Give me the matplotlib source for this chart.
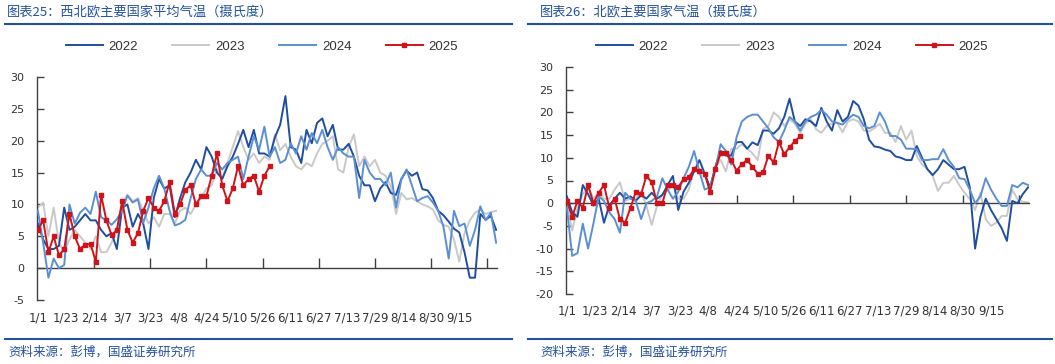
import matplotlib
matplotlib.use('Agg')
import matplotlib.pyplot as plt
from matplotlib.lines import Line2D

plt.rcParams['font.family'] = ['Noto Sans CJK SC', 'DejaVu Sans']

# ---------------- data ----------------
date_labels = ['1/1', '1/23', '2/14', '3/7', '3/23', '4/8', '4/24', '5/10', '5/26',
               '6/11', '6/27', '7/13', '7/29', '8/14', '8/30', '9/15']
label_step = 16      # categories between date labels
sample_step = 3      # categories between read-off samples
years = ['2022', '2023', '2024', '2025']

# North-west Europe average temperature (deg C)
nwe_2022 = [7, 4.5, 3, 3, 3.5, 9.5, 6, 6.5, 7.5, 8.5, 7.5, 7.5, 6, 5, 5.5, 3, 9.5, 10, 6.5, 8.5,
            7, 3, 11, 14, 12.5, 13, 8, 11, 13.5, 15, 17, 15.5, 19, 17.5, 15, 14, 16, 17.5, 19.5, 21.7,
            19, 21.7, 18, 18, 17.5, 20.5, 22.5, 27, 19, 18.6, 16.5, 21.7, 19.6, 22.8, 23.5, 20.7, 22.5, 18.6, 18.6, 19.5,
            17.5, 14.5, 13, 13, 10.5, 12.5, 13.5, 11.8, 11.5, 14, 15.3, 14.5, 15, 12.4, 12.2, 11, 9, 8.3, 7.3, 6.2,
            5.6, 2.5, -1.5, -1.5, 8.5, 7.6, 8.2, 6]
nwe_2023 = [9.5, 10.3, 5, 9.5, 4, 2.5, 4.5, 6, 5, 4, 3, 5, 2.5, 2.5, 4, 6, 10, 11.5, 10.5, 11,
            9, 7, 8, 6.5, 8.5, 8.5, 7, 9, 9.5, 8.5, 10, 11, 12.5, 13, 15.5, 14, 16.5, 19, 21.5, 19,
            17, 18, 16.5, 17.5, 17, 21, 18.5, 19.5, 17.5, 16, 15.5, 16.5, 16, 18, 19.5, 20, 20.7, 15.5, 15, 19,
            21, 16, 17.5, 16, 17, 15, 14.5, 12.9, 8.5, 11.8, 10.8, 11, 10.5, 10, 9.7, 9.2, 7.5, 6.8, 6.5, 4.5,
            1, 5.5, 7.5, 8.7, 9.2, 8.5, 8.8, 9]
nwe_2024 = [9, 4, -1.5, 1.5, 0, 0.5, 10, 7, 8.7, 9.5, 8.5, 12, 8, 7.5, 6.8, 7.7, 9, 11.4, 10.3, 10.8,
            7.1, 9.5, 12.5, 14.5, 12.5, 9, 6.7, 7, 7.6, 11, 14, 15.5, 14.5, 14.5, 16.5, 15.5, 16.5, 17, 17.5, 14,
            17.5, 20.7, 18.6, 22.2, 17.5, 19, 16.5, 17, 19.6, 18, 20.7, 18.6, 21.2, 19.6, 21.7, 19, 17, 19, 18, 17.5,
            17.5, 11, 17, 15, 14, 14, 13, 15, 9.5, 13.9, 15.5, 13, 10.5, 11, 11.3, 10.3, 9, 6.5, 1.5, 9,
            6.6, 7, 3.5, 6, 9.7, 7.5, 8.7, 4]
nwe_2025 = [6, 7.5, 2.5, 5, 2, 3, 8.5, 5, 3, 3.7, 3.8, 1, 11.5, 7.5, 5.2, 6, 10.5, 6, 4, 5.5,
            9, 11, 9.5, 9, 10.5, 13.5, 8.5, 10, 12.3, 13, 10, 11.3, 11.3, 14.5, 18, 13, 10.5, 12.5, 16, 13,
            14, 14.5, 12, 14.5, 16]

# Nordic countries temperature (deg C)
nor_2022 = [1.5, -2, -3, 4, 2, -0.5, 1, -4.3, -0.5, 1, 2.3, 1, 1.5, 0.5, 1.8, 1, 2.3, 1, 1.8, 4,
            6, -1.5, 2.5, 4.5, 7, 9.5, 6.5, 3.5, 8, 11.5, 10.5, 10.5, 13.4, 13.5, 12, 13.4, 12.8, 16, 16, 15.3,
            16.5, 19, 23, 18, 17, 18.5, 18, 17, 21, 18, 16, 20.5, 18, 19, 22.5, 21.5, 18.5, 14, 12.5, 12.3,
            11.8, 11.5, 10.3, 10, 9.5, 9.5, 12.6, 10, 7.5, 6.2, 7.5, 9.5, 8.5, 7.5, 7.5, 8, 3.5, -10, -3, 1,
            -1.5, -3.5, -5.5, -8.3, 0.5, 0, 2, 3.5]
nor_2023 = [0, -6, -1, 2, 3.5, 1, 2.3, 1, 1, 3, 4.6, 0.5, 1, 1, 2.5, -0.6, -4.8, -0.6, 2, 2.8,
            3.8, 1, 1, 3, 7.5, 7.5, 6.5, 3, 8, 9.5, 7, 12, 12, 13, 12, 11, 9.5, 16.3, 17, 20,
            19, 17, 18.5, 17.5, 15.5, 17.5, 18.5, 16.3, 15.5, 17, 17.5, 17.7, 15.6, 18, 18.5, 18, 16, 15.8, 16.5, 17.5,
            15.5, 15.5, 13.5, 17, 14, 16, 10.4, 8.5, 7.5, 6, 2.7, 4.5, 4.5, 6, 4, 2.3, 0.9, -1.5, 2.3, -3.5,
            -5, -4.3, -2.8, -2.8, 3, 0.9, 0.3, 0.2]
nor_2024 = [-1, -11.6, -11, -4.5, -10, -4.5, 1.5, 0.5, -2, -3.5, -6.5, 2.3, 1, 0.5, -3.5, 0, 0.5, 1.5, 5.5, 3,
            1, 2.5, 5.5, 8, 11.5, 7, 3, 3.5, 7.5, 13, 11.5, 8.5, 14.5, 18, 19, 19.5, 19.5, 18, 16.5, 14.5,
            13.5, 16, 19, 18, 16, 18, 19, 19.5, 20.5, 19.5, 18, 17.7, 17.3, 18.5, 19.5, 19, 17, 16.5, 17, 20,
            18, 14.8, 14.8, 14, 12, 12, 11.9, 9.5, 9.5, 9.7, 9.7, 11.9, 9.5, 8, 5.5, 5.3, 3, 0, 1.5, 5.5,
            3, 1, -0.6, -0.6, 4, 3.5, 4.5, 4]
nor_2025 = [0.5, -3, 0.5, -1, 4, 0, 2.3, 4, -1, 1, -3.5, -4.3, -1, 2.5, 2, 6, 4.6, 0, 0, 4,
            4, 3.5, 5.3, 5.7, 7.5, 7, 6.5, 2.5, 7.5, 11, 11, 9.5, 7.2, 8.6, 9.5, 8, 6.5, 6.8, 10.4, 9,
            13.5, 10.8, 12.3, 13.7, 14.7]

nwe_series = [nwe_2022, nwe_2023, nwe_2024, nwe_2025]
nor_series = [nor_2022, nor_2023, nor_2024, nor_2025]

# ---------------- styling ----------------
colors = ['#1f4e9f', '#c9c9c9', '#5b8fd4', '#d0121b']
zorders = [3, 2, 4, 5]
title_blue = '#2351a0'
axis_col = '#404040'
W, H = 1055, 364

fig = plt.figure(figsize=(W / 100, H / 100), dpi=100)


def fx(px):
    return px / W


def fy(py):
    return 1 - py / H


def panel(rect, series, ylim, yticks, label_y_px, tick_len):
    ax = fig.add_axes(rect)
    handles = []
    for vals, c, z, yr in zip(series, colors, zorders, years):
        xs = [i * sample_step for i in range(len(vals))]
        if yr == '2025':
            h, = ax.plot(xs, vals, color=c, lw=1.4, marker='s', ms=3.2, zorder=z,
                         solid_joinstyle='round')
        else:
            h, = ax.plot(xs, vals, color=c, lw=1.4, zorder=z, solid_joinstyle='round')
        handles.append(h)
    ax.set_ylim(*ylim)
    ax.set_xlim(-0.5, 261.5)
    for s in ['top', 'right']:
        ax.spines[s].set_visible(False)
    ax.spines['left'].set_color(axis_col)
    ax.spines['bottom'].set_color(axis_col)
    ax.spines['left'].set_linewidth(1.0)
    ax.spines['bottom'].set_linewidth(1.0)
    ax.spines['bottom'].set_position(('data', 0))
    ax.set_yticks(yticks)
    ax.set_yticklabels([str(v) for v in yticks], fontfamily='DejaVu Sans', fontsize=8, color='#333333')
    ax.tick_params(axis='y', direction='in', length=5, width=1, color=axis_col, pad=9)
    major = list(range(2 * label_step, 262, 2 * label_step))
    ax.set_xticks(major)
    ax.set_xticklabels([])
    ax.tick_params(axis='x', direction='in', length=tick_len, width=1, color=axis_col)
    trans = matplotlib.transforms.blended_transform_factory(ax.transData, fig.transFigure)
    for i, lab in enumerate(date_labels):
        ax.text(i * label_step, fy(label_y_px), lab, transform=trans, ha='center', va='center',
                fontfamily='DejaVu Sans', fontsize=8.5, color='#333333')
    return ax, handles


# left panel
axL, hL = panel([fx(37), fy(300), fx(497) - fx(37), fy(77) - fy(300)], nwe_series,
                (-5, 30), list(range(-5, 31, 5)), 318, 7)
# right panel
axR, hR = panel([fx(566), fy(294), fx(1029) - fx(566), fy(67) - fy(294)], nor_series,
                (-20, 30), list(range(-20, 31, 5)), 311, 6)

for ax, hs, cx in [(axL, hL, 262), (axR, hR, 792)]:
    ax.legend(hs, years, loc='center', bbox_to_anchor=(fx(cx), fy(47)), bbox_transform=fig.transFigure,
              ncol=4, frameon=False, handlelength=2.8, handletextpad=0.45, columnspacing=2.6,
              prop={'family': 'Liberation Sans', 'size': 9.5}, labelcolor='#333333')

# titles, rules and source notes
fig.text(fx(7), fy(12), '图表25：西北欧主要国家平均气温（摄氏度）', fontsize=9.5, color=title_blue,
         ha='left', va='center')
fig.text(fx(540), fy(12), '图表26：北欧主要国家气温（摄氏度）', fontsize=9.5, color=title_blue,
         ha='left', va='center')
for x0, x1 in [(5, 512), (528, 1052)]:
    fig.add_artist(Line2D([fx(x0), fx(x1)], [fy(24), fy(24)], color=title_blue, lw=1.5))
    fig.add_artist(Line2D([fx(x0), fx(x1)], [fy(339), fy(339)], color=title_blue, lw=1.5))
fig.text(fx(8), fy(352), '资料来源：彭博，国盛证券研究所', fontsize=9, color=title_blue, ha='left', va='center')
fig.text(fx(540), fy(352), '资料来源：彭博，国盛证券研究所', fontsize=9, color=title_blue, ha='left', va='center')

fig.savefig('out.png', dpi=100)
